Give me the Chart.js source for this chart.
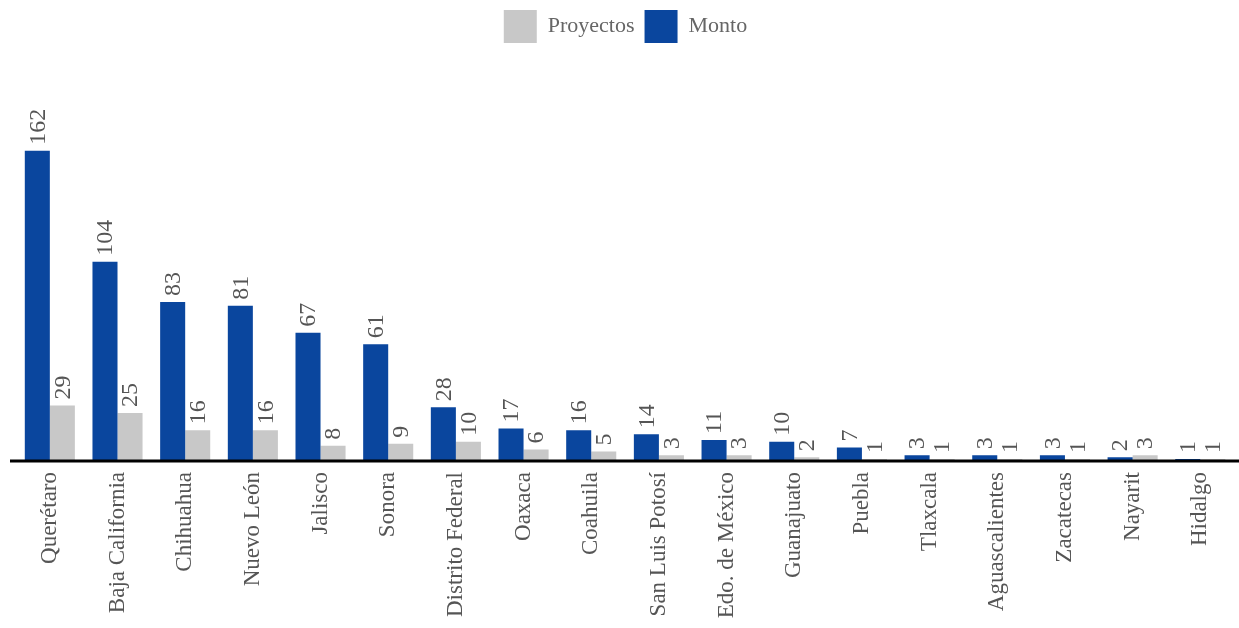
<!DOCTYPE html>
<html lang="es">
<head>
    <meta charset="UTF-8">
    <title>Proyectos y Monto por estado</title>
    <script src="https://cdn.jsdelivr.net/npm/chart.js"></script>
    <style>
        html, body { margin: 0; padding: 0; background: #fff; }
        #wrap { width: 1239px; height: 628px; }
    </style>
</head>
<body>
<div id="wrap"><canvas id="chartCanvas"></canvas></div>

<script>
    const estados = ['Querétaro', 'Baja California', 'Chihuahua', 'Nuevo León', 'Jalisco', 'Sonora',
        'Distrito Federal', 'Oaxaca', 'Coahuila', 'San Luis Potosí', 'Edo. de México', 'Guanajuato',
        'Puebla', 'Tlaxcala', 'Aguascalientes', 'Zacatecas', 'Nayarit', 'Hidalgo'];
    const monto = [162, 104, 83, 81, 67, 61, 28, 17, 16, 14, 11, 10, 7, 3, 3, 3, 2, 1];
    const proyectos = [29, 25, 16, 16, 8, 9, 10, 6, 5, 3, 3, 2, 1, 1, 1, 1, 3, 1];

    const serif = '"Liberation Serif", "DejaVu Serif", serif';

    // etiquetas verticales encima de cada barra + línea base
    const barLabels = {
        id: 'barLabels',
        afterDatasetsDraw(chart) {
            const ctx = chart.ctx;
            const y0 = chart.scales.y.getPixelForValue(0);
            ctx.save();
            ctx.strokeStyle = '#000';
            ctx.lineWidth = 3;
            ctx.beginPath();
            ctx.moveTo(chart.chartArea.left - 6, y0);
            ctx.lineTo(chart.width, y0);
            ctx.stroke();

            ctx.font = '24px ' + serif;
            ctx.fillStyle = '#555';
            ctx.textAlign = 'left';
            ctx.textBaseline = 'middle';
            chart.data.datasets.forEach((ds, i) => {
                chart.getDatasetMeta(i).data.forEach((bar, j) => {
                    ctx.save();
                    ctx.translate(bar.x, bar.y - 6);
                    ctx.rotate(-Math.PI / 2);
                    ctx.fillText(String(ds.data[j]), 0, 1);
                    ctx.restore();
                });
            });
            ctx.restore();
        }
    };

    const ctx = document.getElementById('chartCanvas').getContext('2d');
    const chart = new Chart(ctx, {
        type: 'bar',
        data: {
            labels: estados,
            datasets: [
                { label: 'Monto', data: monto, backgroundColor: '#0A469E' },
                { label: 'Proyectos', data: proyectos, backgroundColor: '#C8C8C8' }
            ]
        },
        options: {
            responsive: true,
            maintainAspectRatio: false,
            animation: false,
            layout: { padding: { left: 16, right: 4, top: 0, bottom: 0 } },
            datasets: { bar: { categoryPercentage: 0.74, barPercentage: 1 } },
            plugins: {
                legend: {
                    reverse: true,
                    labels: {
                        boxWidth: 33, boxHeight: 33, padding: 10,
                        color: '#666',
                        font: { family: serif, size: 22 }
                    }
                },
                tooltip: { enabled: false }
            },
            scales: {
                x: {
                    grid: { display: false, drawTicks: false },
                    border: { display: false },
                    ticks: {
                        minRotation: 90, maxRotation: 90, padding: 11,
                        color: '#555',
                        font: { family: serif, size: 23 }
                    },
                    afterFit(scale) { scale.height = 167; }
                },
                y: {
                    display: false,
                    min: 0, max: 213
                }
            }
        },
        plugins: [barLabels]
    });
</script>
</body>
</html>
